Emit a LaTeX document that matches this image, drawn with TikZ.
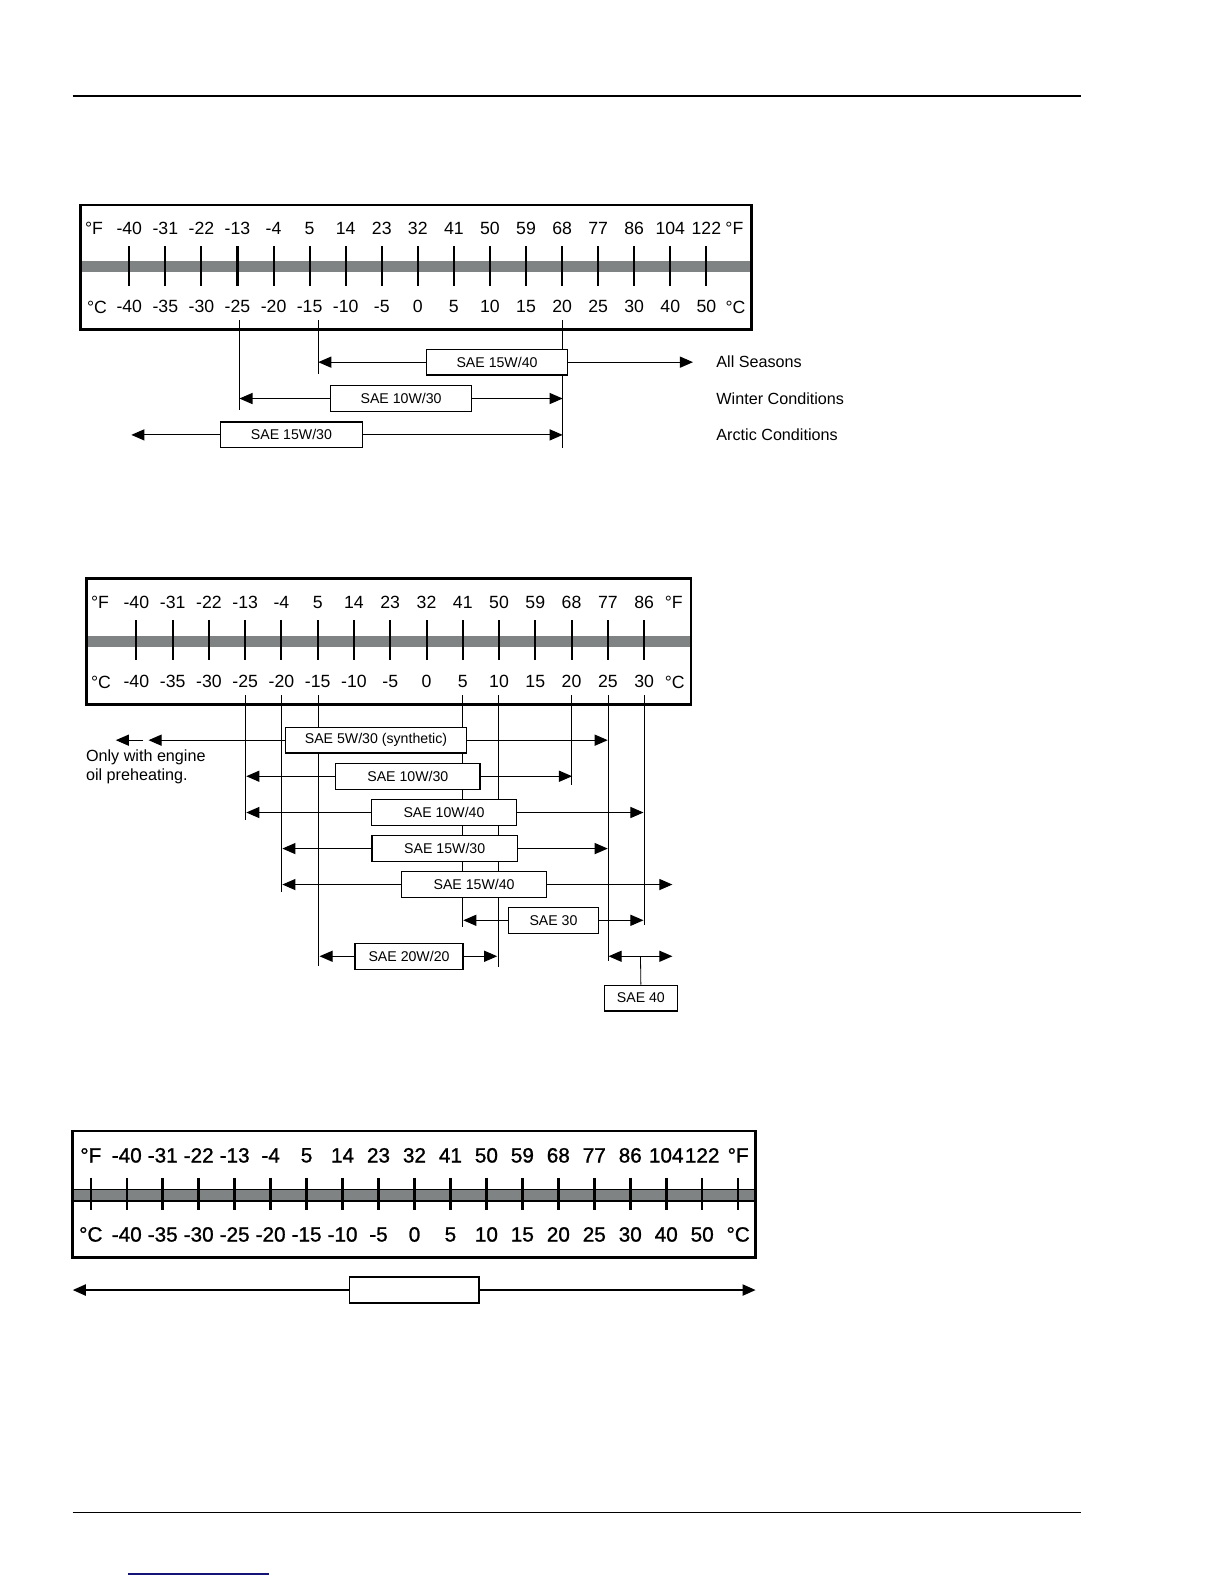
\documentclass[tikz,border=0pt]{standalone}
\usepackage{fontspec}
\setmainfont{Liberation Sans}
\newfontfamily\heavysans[FakeBold=1.2]{Liberation Sans}
\usetikzlibrary{arrows.meta}
\definecolor{bargray}{RGB}{127,131,131}
\definecolor{navyline}{RGB}{20,20,120}
\begin{document}
\begin{tikzpicture}[x=1pt,y=-1pt,
  frame/.style={draw,line width=2.8pt},
  barfill/.style={fill=bargray},
  tickmark/.style={line width=2pt},
  scalelbl/.style={font=\fontsize{17.5}{20}\selectfont,inner sep=0pt},
  biglbl/.style={font=\heavysans\fontsize{20.5}{23}\selectfont,inner sep=0pt},
  oilbox/.style={draw,fill=white,line width=1.2pt,minimum height=25.5pt,inner sep=0pt,font=\fontsize{14}{16}\selectfont},
  sidelbl/.style={anchor=west,inner sep=0pt,font=\fontsize{16}{19}\selectfont},
  rangearrow/.style={-{Triangle[length=13pt,width=11pt]},line width=1.1pt},
  guide/.style={line width=0.8pt},
  rule/.style={line width=1.5pt}]
\useasboundingbox (0,0) rectangle (1212,1568);

% page rules
\coordinate (hl) at (72,95); \coordinate (hr) at (1070,95);
\draw[rule] (hl) -- (hr);
\coordinate (fl) at (72,1497); \coordinate (fr) at (1070,1497);
\draw[rule] (fl) -- (fr);
\coordinate (ul) at (127,1558); \coordinate (ur) at (266,1558);
\draw[rule,navyline] (ul) -- (ur);

% ================= Chart 1 =================
\fill[barfill] (80,258) rectangle (744,269);
\draw[frame] (80,203) rectangle (744,326);
\foreach \i in {0,...,16} \draw[tickmark] ({128+35.7*\i},244) -- ({128+35.7*\i},283);
\node[scalelbl] (aFl) at (93,226) {°F};
\node[scalelbl] (aFr) at (727,226) {°F};
\node[scalelbl] (aCl) at (96,304) {°C};
\node[scalelbl] (aCr) at (728,304) {°C};
\foreach \lab [count=\i from 0] in {-40,-31,-22,-13,-4,5,14,23,32,41,50,59,68,77,86,104,122}
  \node[scalelbl] (aF\i) at ({128+35.7*\i},226) {\lab};
\foreach \lab [count=\i from 0] in {-40,-35,-30,-25,-20,-15,-10,-5,0,5,10,15,20,25,30,40,50}
  \node[scalelbl] (aC\i) at ({128+35.7*\i},303) {\lab};
% guides
\coordinate (ag1t) at (237,317); \coordinate (ag1b) at (237,406);
\coordinate (ag2t) at (315,317); \coordinate (ag2b) at (315,370);
\coordinate (ag3t) at (557,317); \coordinate (ag3b) at (557,443);
\draw[guide] (ag1t) -- (ag1b);
\draw[guide] (ag2t) -- (ag2b);
\draw[guide] (ag3t) -- (ag3b);
% rows
\node[oilbox,minimum width=140pt] (a1) at (492,358.5) {SAE 15W/40};
\coordinate (a1l) at (315,358.5); \coordinate (a1r) at (686,358.5);
\draw[rangearrow] (a1.west) -- (a1l); \draw[rangearrow] (a1.east) -- (a1r);
\node[oilbox,minimum width=140pt] (a2) at (397,394.5) {SAE 10W/30};
\coordinate (a2l) at (237,394.5); \coordinate (a2r) at (557,394.5);
\draw[rangearrow] (a2.west) -- (a2l); \draw[rangearrow] (a2.east) -- (a2r);
\node[oilbox,minimum width=141pt] (a3) at (288.5,430.5) {SAE 15W/30};
\coordinate (a3l) at (130,430.5); \coordinate (a3r) at (557,430.5);
\draw[rangearrow] (a3.west) -- (a3l); \draw[rangearrow] (a3.east) -- (a3r);
\node[sidelbl] (s1) at (709,358.5) {All Seasons};
\node[sidelbl] (s2) at (709,395) {Winter Conditions};
\node[sidelbl] (s3) at (709,430.5) {Arctic Conditions};

% ================= Chart 2 =================
\fill[barfill] (86,629.5) rectangle (684,640.5);
\draw[frame] (86,573) rectangle (684,697);
\foreach \i in {0,...,14} \draw[tickmark] ({135+35.9*\i},614) -- ({135+35.9*\i},653);
\node[scalelbl] (bFl) at (99,596) {°F};
\node[scalelbl] (bFr) at (667,596) {°F};
\node[scalelbl] (bCl) at (100,675.5) {°C};
\node[scalelbl] (bCr) at (668,675.5) {°C};
\foreach \lab [count=\i from 0] in {-40,-31,-22,-13,-4,5,14,23,32,41,50,59,68,77,86}
  \node[scalelbl] (bF\i) at ({135+35.9*\i},596) {\lab};
\foreach \lab [count=\i from 0] in {-40,-35,-30,-25,-20,-15,-10,-5,0,5,10,15,20,25,30}
  \node[scalelbl] (bC\i) at ({135+35.9*\i},675) {\lab};
% guides
\foreach \gx/\gb [count=\k] in {243/812,279/883,315/956,458/918,493/957,566/777,602/951,638/916}{
  \coordinate (bg\k t) at (\gx,688); \coordinate (bg\k b) at (\gx,\gb);
  \draw[guide] (bg\k t) -- (bg\k b);}
% rows
\node[oilbox,minimum width=179pt] (b1) at (372.2,732.7) {SAE 5W/30 (synthetic)};
\coordinate (b1l) at (147,732.7); \coordinate (b1r) at (601.6,732.7);
\draw[rangearrow] (b1.west) -- (b1l); \draw[rangearrow] (b1.east) -- (b1r);
\coordinate (b0t) at (141.7,732.7); \coordinate (b0h) at (114.6,732.7);
\draw[rangearrow] (b0t) -- (b0h);
\node[sidelbl] (pre1) at (85,749.2) {Only with engine};
\node[sidelbl] (pre2) at (85,768.4) {oil preheating.};

\node[oilbox,minimum width=143pt] (b2) at (403.7,768.4) {SAE 10W/30};
\coordinate (b2l) at (243.8,768.4); \coordinate (b2r) at (566.3,768.4);
\draw[rangearrow] (b2.west) -- (b2l); \draw[rangearrow] (b2.east) -- (b2r);

\node[oilbox,minimum width=143pt] (b3) at (439.5,804.3) {SAE 10W/40};
\coordinate (b3l) at (243.8,804.3); \coordinate (b3r) at (637,804.3);
\draw[rangearrow] (b3.west) -- (b3l); \draw[rangearrow] (b3.east) -- (b3r);

\node[oilbox,minimum width=144pt] (b4) at (440.2,840) {SAE 15W/30};
\coordinate (b4l) at (279.5,840); \coordinate (b4r) at (601.6,840);
\draw[rangearrow] (b4.west) -- (b4l); \draw[rangearrow] (b4.east) -- (b4r);

\node[oilbox,minimum width=143pt] (b5) at (469.3,875.6) {SAE 15W/40};
\coordinate (b5l) at (279.5,875.6); \coordinate (b5r) at (665.6,875.6);
\draw[rangearrow] (b5.west) -- (b5l); \draw[rangearrow] (b5.east) -- (b5r);

\node[oilbox,minimum width=89pt] (b6) at (547.9,911) {SAE 30};
\coordinate (b6l) at (458.6,911); \coordinate (b6r) at (637,911);
\draw[rangearrow] (b6.west) -- (b6l); \draw[rangearrow] (b6.east) -- (b6r);

\node[oilbox,minimum width=107pt] (b7) at (404.9,946.6) {SAE 20W/20};
\coordinate (b7l) at (316.3,946.6); \coordinate (b7r) at (492.2,946.6);
\draw[rangearrow] (b7.west) -- (b7l); \draw[rangearrow] (b7.east) -- (b7r);

\coordinate (b8l) at (602.4,946.6); \coordinate (b8r) at (665.6,946.6);
\coordinate (b8s) at (634,946.6);
\draw[rangearrow,{Triangle[length=13pt,width=11pt]}-{Triangle[length=13pt,width=11pt]}] (b8l) -- (b8r);
\node[oilbox,minimum width=72pt] (b8) at (634.4,988) {SAE 40};
\draw[guide] (b8s) -- (b8.north);

% ================= Chart 3 =================
\filldraw[fill=bargray,draw=black,line width=1.2pt] (72,1177.7) rectangle (748,1188.9);
\draw[frame,line width=2.5pt] (72,1119.6) rectangle (748,1245);
\foreach \j in {0,...,18} \draw[line width=2.5pt] ({89.9+35.6*\j},1166) -- ({89.9+35.6*\j},1198);
\node[biglbl] (cFl) at (89.9,1143.7) {°F};
\node[biglbl] (cFr) at (730.7,1143.7) {°F};
\node[biglbl] (cCl) at (89.9,1222) {°C};
\node[biglbl] (cCr) at (730.7,1222) {°C};
\foreach \lab [count=\i from 1] in {-40,-31,-22,-13,-4,5,14,23,32,41,50,59,68,77,86,104,122}
  \node[biglbl] (cF\i) at ({89.9+35.6*\i},1143.7) {\lab};
\foreach \lab [count=\i from 1] in {-40,-35,-30,-25,-20,-15,-10,-5,0,5,10,15,20,25,30,40,50}
  \node[biglbl] (cC\i) at ({89.9+35.6*\i},1222) {\lab};
\node[draw,fill=white,line width=1.5pt,minimum width=128pt,minimum height=26pt,inner sep=0pt] (c1) at (410.2,1277) {};
\coordinate (c1l) at (72,1277); \coordinate (c1r) at (748,1277);
\draw[-{Triangle[length=13pt,width=11pt]},line width=2pt] (c1.west) -- (c1l);
\draw[-{Triangle[length=13pt,width=11pt]},line width=2pt] (c1.east) -- (c1r);
\end{tikzpicture}
\end{document}
